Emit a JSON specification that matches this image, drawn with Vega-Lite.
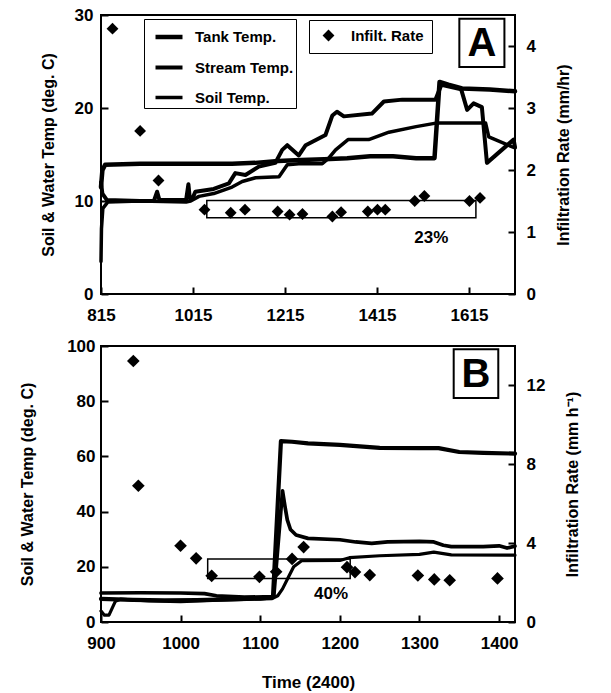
{
  "$schema": "https://vega.github.io/schema/vega-lite/v6.json",
  "padding": {"left": 18, "top": 5, "right": 5, "bottom": 2},
  "background": "white",
  "config": {
    "font": "Liberation Sans",
    "view": {"stroke": "black", "strokeWidth": 2},
    "axis": {
      "labelFont": "Liberation Sans", "labelFontSize": 17, "labelFontWeight": "bold", "labelColor": "black",
      "titleFont": "Liberation Sans", "titleFontSize": 16, "titleFontWeight": "bold", "titleColor": "black",
      "domain": false, "tickColor": "black", "tickWidth": 2, "ticks": true,
      "grid": false, "labelOverlap": false, "labelFlush": false, "labelPadding": 6, "zindex": 1
    },
    "legend": {"labelFont": "Liberation Sans", "labelFontSize": 15, "labelFontWeight": "bold", "labelColor": "black"}
  },
  "datasets": {
    "a_lines": [
      {"series": "Tank Temp.", "t": 815, "temp": 11.5}, {"series": "Tank Temp.", "t": 818, "temp": 13.3}, {"series": "Tank Temp.", "t": 824, "temp": 13.9},
      {"series": "Tank Temp.", "t": 900, "temp": 14.0}, {"series": "Tank Temp.", "t": 1000, "temp": 14.0}, {"series": "Tank Temp.", "t": 1100, "temp": 14.0},
      {"series": "Tank Temp.", "t": 1150, "temp": 14.1}, {"series": "Tank Temp.", "t": 1200, "temp": 14.3}, {"series": "Tank Temp.", "t": 1250, "temp": 14.4},
      {"series": "Tank Temp.", "t": 1300, "temp": 14.5}, {"series": "Tank Temp.", "t": 1350, "temp": 14.6}, {"series": "Tank Temp.", "t": 1400, "temp": 14.8},
      {"series": "Tank Temp.", "t": 1450, "temp": 14.8}, {"series": "Tank Temp.", "t": 1500, "temp": 14.6}, {"series": "Tank Temp.", "t": 1540, "temp": 14.6},
      {"series": "Tank Temp.", "t": 1551, "temp": 22.8}, {"series": "Tank Temp.", "t": 1570, "temp": 22.5}, {"series": "Tank Temp.", "t": 1600, "temp": 22.1},
      {"series": "Tank Temp.", "t": 1660, "temp": 22.0}, {"series": "Tank Temp.", "t": 1715, "temp": 21.8},
      {"series": "Stream Temp.", "t": 815, "temp": 12.0}, {"series": "Stream Temp.", "t": 818, "temp": 10.8}, {"series": "Stream Temp.", "t": 828, "temp": 10.1},
      {"series": "Stream Temp.", "t": 900, "temp": 10.0}, {"series": "Stream Temp.", "t": 930, "temp": 10.0}, {"series": "Stream Temp.", "t": 937, "temp": 11.0},
      {"series": "Stream Temp.", "t": 942, "temp": 10.1}, {"series": "Stream Temp.", "t": 1000, "temp": 10.1}, {"series": "Stream Temp.", "t": 1005, "temp": 11.8},
      {"series": "Stream Temp.", "t": 1008, "temp": 10.3}, {"series": "Stream Temp.", "t": 1015, "temp": 10.4}, {"series": "Stream Temp.", "t": 1020, "temp": 11.0},
      {"series": "Stream Temp.", "t": 1060, "temp": 11.3}, {"series": "Stream Temp.", "t": 1093, "temp": 11.9}, {"series": "Stream Temp.", "t": 1107, "temp": 13.0},
      {"series": "Stream Temp.", "t": 1129, "temp": 12.8}, {"series": "Stream Temp.", "t": 1158, "temp": 13.7}, {"series": "Stream Temp.", "t": 1194, "temp": 14.1},
      {"series": "Stream Temp.", "t": 1209, "temp": 15.5}, {"series": "Stream Temp.", "t": 1220, "temp": 16.0}, {"series": "Stream Temp.", "t": 1245, "temp": 14.9},
      {"series": "Stream Temp.", "t": 1260, "temp": 16.0}, {"series": "Stream Temp.", "t": 1303, "temp": 17.1}, {"series": "Stream Temp.", "t": 1318, "temp": 19.2},
      {"series": "Stream Temp.", "t": 1328, "temp": 19.6}, {"series": "Stream Temp.", "t": 1343, "temp": 19.1}, {"series": "Stream Temp.", "t": 1404, "temp": 19.4},
      {"series": "Stream Temp.", "t": 1430, "temp": 20.7}, {"series": "Stream Temp.", "t": 1470, "temp": 20.9}, {"series": "Stream Temp.", "t": 1542, "temp": 20.9},
      {"series": "Stream Temp.", "t": 1555, "temp": 22.5}, {"series": "Stream Temp.", "t": 1598, "temp": 22.0}, {"series": "Stream Temp.", "t": 1611, "temp": 19.8},
      {"series": "Stream Temp.", "t": 1625, "temp": 20.5}, {"series": "Stream Temp.", "t": 1643, "temp": 20.1}, {"series": "Stream Temp.", "t": 1654, "temp": 14.1},
      {"series": "Stream Temp.", "t": 1712, "temp": 16.6}, {"series": "Stream Temp.", "t": 1715, "temp": 15.8},
      {"series": "Soil Temp.", "t": 815, "temp": 3.5}, {"series": "Soil Temp.", "t": 816, "temp": 7.0}, {"series": "Soil Temp.", "t": 819, "temp": 9.2},
      {"series": "Soil Temp.", "t": 830, "temp": 9.9}, {"series": "Soil Temp.", "t": 900, "temp": 10.0}, {"series": "Soil Temp.", "t": 1000, "temp": 9.9},
      {"series": "Soil Temp.", "t": 1010, "temp": 10.0}, {"series": "Soil Temp.", "t": 1028, "temp": 10.5}, {"series": "Soil Temp.", "t": 1060, "temp": 10.8},
      {"series": "Soil Temp.", "t": 1100, "temp": 11.5}, {"series": "Soil Temp.", "t": 1122, "temp": 12.1}, {"series": "Soil Temp.", "t": 1151, "temp": 12.5},
      {"series": "Soil Temp.", "t": 1202, "temp": 12.6}, {"series": "Soil Temp.", "t": 1220, "temp": 13.9}, {"series": "Soil Temp.", "t": 1245, "temp": 14.0},
      {"series": "Soil Temp.", "t": 1296, "temp": 14.0}, {"series": "Soil Temp.", "t": 1310, "temp": 14.6}, {"series": "Soil Temp.", "t": 1325, "temp": 15.5},
      {"series": "Soil Temp.", "t": 1352, "temp": 16.6}, {"series": "Soil Temp.", "t": 1397, "temp": 16.6}, {"series": "Soil Temp.", "t": 1441, "temp": 17.4},
      {"series": "Soil Temp.", "t": 1500, "temp": 18.0}, {"series": "Soil Temp.", "t": 1546, "temp": 18.4}, {"series": "Soil Temp.", "t": 1600, "temp": 18.4},
      {"series": "Soil Temp.", "t": 1651, "temp": 18.4}, {"series": "Soil Temp.", "t": 1658, "temp": 16.9}, {"series": "Soil Temp.", "t": 1715, "temp": 15.7}
    ],
    "a_rate": [
      {"kind": "Infilt. Rate", "t": 840, "rate": 4.28}, {"kind": "Infilt. Rate", "t": 900, "rate": 2.63}, {"kind": "Infilt. Rate", "t": 940, "rate": 1.83},
      {"kind": "Infilt. Rate", "t": 1040, "rate": 1.36}, {"kind": "Infilt. Rate", "t": 1097, "rate": 1.31}, {"kind": "Infilt. Rate", "t": 1128, "rate": 1.36},
      {"kind": "Infilt. Rate", "t": 1199, "rate": 1.33}, {"kind": "Infilt. Rate", "t": 1225, "rate": 1.28}, {"kind": "Infilt. Rate", "t": 1253, "rate": 1.29},
      {"kind": "Infilt. Rate", "t": 1318, "rate": 1.25}, {"kind": "Infilt. Rate", "t": 1337, "rate": 1.32}, {"kind": "Infilt. Rate", "t": 1395, "rate": 1.33},
      {"kind": "Infilt. Rate", "t": 1416, "rate": 1.36}, {"kind": "Infilt. Rate", "t": 1433, "rate": 1.36}, {"kind": "Infilt. Rate", "t": 1497, "rate": 1.50},
      {"kind": "Infilt. Rate", "t": 1518, "rate": 1.58}, {"kind": "Infilt. Rate", "t": 1616, "rate": 1.50}, {"kind": "Infilt. Rate", "t": 1639, "rate": 1.55}
    ],
    "a_box": [{"t": 1045, "t2": 1630, "rate": 1.23, "rate2": 1.51}],
    "a_pct": [{"t": 1533, "rate": 0.9, "label": "23%"}],
    "a_lbl": [{"t": 1594, "t2": 1692, "temp": 24.4, "temp2": 29.6}],
    "a_lbltxt": [{"t": 1643, "temp": 27.0, "label": "A"}],
    "b_lines": [
      {"series": "Tank Temp.", "t": 900, "temp": 8.4}, {"series": "Tank Temp.", "t": 940, "temp": 8.0}, {"series": "Tank Temp.", "t": 980, "temp": 7.8},
      {"series": "Tank Temp.", "t": 1020, "temp": 7.9}, {"series": "Tank Temp.", "t": 1060, "temp": 8.2}, {"series": "Tank Temp.", "t": 1100, "temp": 8.5},
      {"series": "Tank Temp.", "t": 1116, "temp": 9.0}, {"series": "Tank Temp.", "t": 1126, "temp": 65.5}, {"series": "Tank Temp.", "t": 1140, "temp": 65.3},
      {"series": "Tank Temp.", "t": 1160, "temp": 64.7}, {"series": "Tank Temp.", "t": 1200, "temp": 64.2}, {"series": "Tank Temp.", "t": 1250, "temp": 63.1},
      {"series": "Tank Temp.", "t": 1300, "temp": 63.0}, {"series": "Tank Temp.", "t": 1324, "temp": 63.0}, {"series": "Tank Temp.", "t": 1350, "temp": 61.6},
      {"series": "Tank Temp.", "t": 1380, "temp": 61.3}, {"series": "Tank Temp.", "t": 1420, "temp": 61.0},
      {"series": "Stream Temp.", "t": 900, "temp": 10.5}, {"series": "Stream Temp.", "t": 950, "temp": 10.6}, {"series": "Stream Temp.", "t": 1000, "temp": 10.5},
      {"series": "Stream Temp.", "t": 1030, "temp": 10.3}, {"series": "Stream Temp.", "t": 1045, "temp": 9.5}, {"series": "Stream Temp.", "t": 1080, "temp": 9.0},
      {"series": "Stream Temp.", "t": 1117, "temp": 9.2}, {"series": "Stream Temp.", "t": 1128, "temp": 47.5}, {"series": "Stream Temp.", "t": 1131, "temp": 42.0},
      {"series": "Stream Temp.", "t": 1134, "temp": 37.0}, {"series": "Stream Temp.", "t": 1138, "temp": 33.5}, {"series": "Stream Temp.", "t": 1145, "temp": 31.5},
      {"series": "Stream Temp.", "t": 1160, "temp": 30.3}, {"series": "Stream Temp.", "t": 1200, "temp": 29.8}, {"series": "Stream Temp.", "t": 1220, "temp": 29.0},
      {"series": "Stream Temp.", "t": 1240, "temp": 28.5}, {"series": "Stream Temp.", "t": 1260, "temp": 29.0}, {"series": "Stream Temp.", "t": 1300, "temp": 29.2},
      {"series": "Stream Temp.", "t": 1318, "temp": 29.0}, {"series": "Stream Temp.", "t": 1330, "temp": 27.8}, {"series": "Stream Temp.", "t": 1340, "temp": 27.3},
      {"series": "Stream Temp.", "t": 1380, "temp": 27.3}, {"series": "Stream Temp.", "t": 1400, "temp": 27.6}, {"series": "Stream Temp.", "t": 1410, "temp": 26.8},
      {"series": "Stream Temp.", "t": 1420, "temp": 27.5},
      {"series": "Soil Temp.", "t": 900, "temp": 4.0}, {"series": "Soil Temp.", "t": 904, "temp": 2.5}, {"series": "Soil Temp.", "t": 910, "temp": 2.5},
      {"series": "Soil Temp.", "t": 918, "temp": 7.5}, {"series": "Soil Temp.", "t": 925, "temp": 8.3}, {"series": "Soil Temp.", "t": 960, "temp": 7.6},
      {"series": "Soil Temp.", "t": 1000, "temp": 7.4}, {"series": "Soil Temp.", "t": 1040, "temp": 7.8}, {"series": "Soil Temp.", "t": 1080, "temp": 8.2},
      {"series": "Soil Temp.", "t": 1115, "temp": 8.5}, {"series": "Soil Temp.", "t": 1122, "temp": 9.5}, {"series": "Soil Temp.", "t": 1128, "temp": 12.0},
      {"series": "Soil Temp.", "t": 1135, "temp": 16.0}, {"series": "Soil Temp.", "t": 1142, "temp": 20.0}, {"series": "Soil Temp.", "t": 1152, "temp": 22.2},
      {"series": "Soil Temp.", "t": 1200, "temp": 22.3}, {"series": "Soil Temp.", "t": 1212, "temp": 23.3}, {"series": "Soil Temp.", "t": 1250, "temp": 24.0},
      {"series": "Soil Temp.", "t": 1300, "temp": 24.5}, {"series": "Soil Temp.", "t": 1318, "temp": 25.3}, {"series": "Soil Temp.", "t": 1340, "temp": 24.3},
      {"series": "Soil Temp.", "t": 1420, "temp": 24.2}
    ],
    "b_rate": [
      {"t": 940.6, "rate": 13.24}, {"t": 946.9, "rate": 6.91}, {"t": 999.9, "rate": 3.87}, {"t": 1019.5, "rate": 3.23},
      {"t": 1039, "rate": 2.34}, {"t": 1099, "rate": 2.29}, {"t": 1120, "rate": 2.55}, {"t": 1140, "rate": 3.2},
      {"t": 1154.5, "rate": 3.8}, {"t": 1209, "rate": 2.78}, {"t": 1219, "rate": 2.53}, {"t": 1237.6, "rate": 2.38},
      {"t": 1298, "rate": 2.36}, {"t": 1318.6, "rate": 2.16}, {"t": 1338, "rate": 2.12}, {"t": 1398, "rate": 2.21}
    ],
    "b_box": [{"t": 1034, "t2": 1213, "rate": 2.21, "rate2": 3.19}],
    "b_pct": [{"t": 1189, "rate": 1.44, "label": "40%"}],
    "b_lbl": [{"t": 1343, "t2": 1399, "temp": 81.2, "temp2": 98.8}],
    "b_lbltxt": [{"t": 1371, "temp": 90.0, "label": "B"}]
  },
  "vconcat": [
    {
      "width": 414, "height": 279,
      "layer": [
        {
          "layer": [
            {
              "data": {"name": "a_lines"},
              "mark": {"type": "line", "color": "black", "strokeJoin": "round", "strokeCap": "round"},
              "encoding": {
                "x": {"field": "t", "type": "quantitative", "scale": {"domain": [815, 1715], "nice": false, "zero": false},
                      "axis": {"title": null, "format": "d", "labelOverlap": false, "labelPadding": 20, "ticks": true, "tickSize": -7,
                               "values": [815, 1015, 1215, 1415, 1615]}},
                "y": {"field": "temp", "type": "quantitative", "scale": {"domain": [0, 30], "nice": false},
                      "axis": {"orient": "left", "title": "Soil & Water Temp (deg. C)", "titlePadding": 18, "labelPadding": 15, "ticks": true, "tickSize": -7,
                               "labelOverlap": false, "format": "d", "values": [0, 10, 20, 30]}},
                "strokeWidth": {"field": "series", "type": "nominal",
                                "scale": {"domain": ["Tank Temp.", "Stream Temp.", "Soil Temp."], "range": [4.5, 3.5, 2.8]},
                                "legend": {"title": null, "orient": "none", "legendX": 43, "legendY": 4, "symbolType": "stroke",
                                           "symbolSize": 729, "symbolStrokeColor": "black", "strokeColor": "black", "padding": 2,
                                           "symbolOffset": 7, "labelOffset": 10, "rowPadding": 6, "fillColor": "white",
                                           "labelExpr": "datum.label + '     '"}}
              }
            },
            {
              "data": {"name": "a_lbl"},
              "mark": {"type": "rect", "fill": "white", "stroke": "black", "strokeWidth": 2},
              "encoding": {
                "x": {"field": "t", "type": "quantitative"}, "x2": {"field": "t2"},
                "y": {"field": "temp", "type": "quantitative"}, "y2": {"field": "temp2"}
              }
            },
            {
              "data": {"name": "a_lbltxt"},
              "mark": {"type": "text", "font": "Liberation Sans", "fontSize": 40, "fontWeight": "bold", "color": "black", "baseline": "middle", "dy": 1},
              "encoding": {
                "x": {"field": "t", "type": "quantitative"},
                "y": {"field": "temp", "type": "quantitative"},
                "text": {"field": "label"}
              }
            }
          ]
        },
        {
          "layer": [
            {
              "data": {"name": "a_rate"},
              "mark": {"type": "point", "filled": true, "color": "black", "opacity": 1, "size": 140},
              "encoding": {
                "x": {"field": "t", "type": "quantitative"},
                "y": {"field": "rate", "type": "quantitative", "scale": {"domain": [0, 4.5], "nice": false},
                      "axis": {"orient": "right", "title": "Infiltration Rate (mm/hr)", "titleAngle": -90, "titleBaseline": "top", "titlePadding": 20,
                               "labelPadding": 18, "ticks": true, "tickSize": -7, "labelOverlap": false, "format": "d", "values": [0, 1, 2, 3, 4]}},
                "shape": {"field": "kind", "type": "nominal", "scale": {"domain": ["Infilt. Rate"], "range": ["diamond"]},
                          "legend": {"title": null, "orient": "none", "legendX": 208, "legendY": 5, "strokeColor": "black", "padding": 8,
                                     "symbolSize": 140, "symbolFillColor": "black", "symbolStrokeColor": "black", "symbolOffset": 4,
                                     "labelOffset": 15, "fillColor": "white", "labelExpr": "datum.label + '  '"}}
              }
            },
            {
              "data": {"name": "a_box"},
              "mark": {"type": "rect", "fill": null, "fillOpacity": 0, "stroke": "black", "strokeWidth": 1.5},
              "encoding": {
                "x": {"field": "t", "type": "quantitative"}, "x2": {"field": "t2"},
                "y": {"field": "rate", "type": "quantitative"}, "y2": {"field": "rate2"}
              }
            },
            {
              "data": {"name": "a_pct"},
              "mark": {"type": "text", "font": "Liberation Sans", "fontSize": 17, "fontWeight": "bold", "color": "black"},
              "encoding": {
                "x": {"field": "t", "type": "quantitative"},
                "y": {"field": "rate", "type": "quantitative"},
                "text": {"field": "label"}
              }
            }
          ]
        }
      ],
      "resolve": {"scale": {"y": "independent"}}
    },
    {
      "width": 414, "height": 276,
      "layer": [
        {
          "layer": [
            {
              "data": {"name": "b_lines"},
              "mark": {"type": "line", "color": "black", "strokeJoin": "round", "strokeCap": "round"},
              "encoding": {
                "x": {"field": "t", "type": "quantitative", "scale": {"domain": [900, 1420], "nice": false, "zero": false},
                      "axis": {"title": "Time (2400)", "titlePadding": 23, "titleFontSize": 17, "format": "d", "labelOverlap": false, "labelPadding": 13,
                               "ticks": true, "tickSize": 7, "offset": -7, "values": [900, 1000, 1100, 1200, 1300, 1400]}},
                "y": {"field": "temp", "type": "quantitative", "scale": {"domain": [0, 100], "nice": false},
                      "axis": {"orient": "left", "title": "Soil & Water Temp (deg. C)", "titlePadding": 31, "labelPadding": 6, "labelOverlap": false, "format": "d",
                               "ticks": true, "tickSize": 7, "offset": -7, "values": [0, 20, 40, 60, 80, 100]}},
                "strokeWidth": {"field": "series", "type": "nominal",
                                "scale": {"domain": ["Tank Temp.", "Stream Temp.", "Soil Temp."], "range": [4.2, 3.2, 3.6]},
                                "legend": null}
              }
            },
            {
              "data": {"name": "b_lbl"},
              "mark": {"type": "rect", "fill": "white", "stroke": "black", "strokeWidth": 2},
              "encoding": {
                "x": {"field": "t", "type": "quantitative"}, "x2": {"field": "t2"},
                "y": {"field": "temp", "type": "quantitative"}, "y2": {"field": "temp2"}
              }
            },
            {
              "data": {"name": "b_lbltxt"},
              "mark": {"type": "text", "font": "Liberation Sans", "fontSize": 40, "fontWeight": "bold", "color": "black", "baseline": "middle", "dy": 1},
              "encoding": {
                "x": {"field": "t", "type": "quantitative"},
                "y": {"field": "temp", "type": "quantitative"},
                "text": {"field": "label"}
              }
            }
          ]
        },
        {
          "layer": [
            {
              "data": {"name": "b_rate"},
              "mark": {"type": "point", "shape": "diamond", "filled": true, "color": "black", "opacity": 1, "size": 160},
              "encoding": {
                "x": {"field": "t", "type": "quantitative"},
                "y": {"field": "rate", "type": "quantitative", "scale": {"domain": [0, 14], "nice": false},
                      "axis": {"orient": "right", "title": "Infiltration Rate (mm h⁻¹)", "titleAngle": -90, "titleBaseline": "top", "titlePadding": 20,
                               "labelPadding": 11, "ticks": true, "tickSize": 7, "offset": -7, "labelOverlap": false, "format": "d", "values": [0, 2, 4, 6, 8, 10, 12, 14]}}
              }
            },
            {
              "data": {"name": "b_box"},
              "mark": {"type": "rect", "fill": null, "fillOpacity": 0, "stroke": "black", "strokeWidth": 1.5},
              "encoding": {
                "x": {"field": "t", "type": "quantitative"}, "x2": {"field": "t2"},
                "y": {"field": "rate", "type": "quantitative"}, "y2": {"field": "rate2"}
              }
            },
            {
              "data": {"name": "b_pct"},
              "mark": {"type": "text", "font": "Liberation Sans", "fontSize": 17, "fontWeight": "bold", "color": "black"},
              "encoding": {
                "x": {"field": "t", "type": "quantitative"},
                "y": {"field": "rate", "type": "quantitative"},
                "text": {"field": "label"}
              }
            }
          ]
        }
      ],
      "resolve": {"scale": {"y": "independent"}}
    }
  ],
  "spacing": 12,
  "resolve": {"scale": {"x": "independent", "y": "independent", "strokeWidth": "independent", "shape": "independent"},
              "legend": {"strokeWidth": "independent", "shape": "independent"}}
}
